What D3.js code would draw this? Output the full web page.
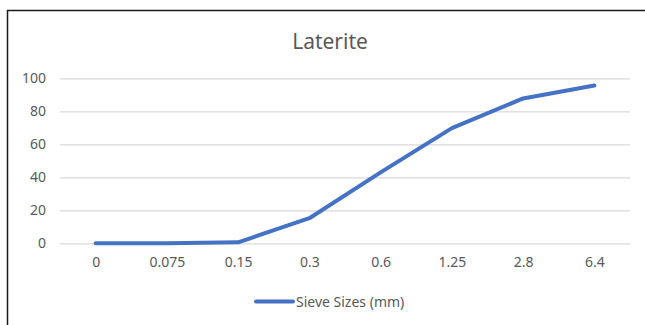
<!DOCTYPE html>
<html>
<head>
<meta charset="utf-8">
<script src="https://cdn.jsdelivr.net/npm/d3@7"></script>
<style>
  body { margin: 0; background: #fff; }
  svg { display: block; }
</style>
</head>
<body>
<svg id="chart"></svg>
<script>
// chart data
const sieveSizes = ["0", "0.075", "0.15", "0.3", "0.6", "1.25", "2.8", "6.4"];
const passing = [0, 0, 0.6, 15.2, 43, 69.8, 87.8, 95.6];
const yTicks = [0, 20, 40, 60, 80, 100];
const seriesName = "Sieve Sizes (mm)";
const chartTitle = "Laterite";

const W = 645, H = 325;
const font = "'Noto Sans', 'Open Sans', sans-serif";
const textColor = "#595959";

const svg = d3.select("#chart")
  .attr("width", W)
  .attr("height", H);

// frame (only left & top visible in the crop)
svg.append("path")
  .attr("d", `M7.5,${H + 5} V10.5 H${W + 5}`)
  .attr("fill", "none")
  .attr("stroke", "#1a1a1a")
  .attr("stroke-width", 1.5);

// title
svg.append("text")
  .attr("x", 330)
  .attr("y", 49)
  .attr("text-anchor", "middle")
  .style("font-family", font)
  .style("font-size", "21px")
  .attr("fill", textColor)
  .text(chartTitle);

// scales
const x = d3.scalePoint()
  .domain(sieveSizes)
  .range([60, 630])
  .padding(0.5);

const y = d3.scaleLinear()
  .domain([0, 100])
  .range([243.3, 78.3]);

// gridlines + y labels
const yAxis = svg.append("g")
  .attr("transform", "translate(60,0)")
  .call(d3.axisLeft(y).tickValues(yTicks).tickSize(-570).tickPadding(14));
yAxis.select(".domain").remove();
yAxis.selectAll(".tick line")
  .attr("stroke", "#d9d9d9")
  .attr("stroke-width", 1.3);
yAxis.selectAll(".tick text")
  .attr("fill", textColor)
  .style("font-family", font)
  .style("font-size", "14px");

// x labels
const xAxis = svg.append("g")
  .attr("transform", "translate(0,243.3)")
  .call(d3.axisBottom(x).tickSize(0).tickPadding(14));
xAxis.select(".domain").remove();
xAxis.selectAll(".tick text")
  .attr("fill", textColor)
  .style("font-family", font)
  .style("font-size", "14px");

// line
const line = d3.line()
  .x((d, i) => x(sieveSizes[i]))
  .y(d => y(d));

svg.append("path")
  .datum(passing)
  .attr("d", line)
  .attr("fill", "none")
  .attr("stroke", "#4472C4")
  .attr("stroke-width", 4)
  .attr("stroke-linejoin", "round")
  .attr("stroke-linecap", "round");

// legend
const legend = svg.append("g").attr("transform", "translate(256,301.5)");
legend.append("line")
  .attr("x1", 0).attr("x2", 37)
  .attr("stroke", "#4472C4")
  .attr("stroke-width", 4)
  .attr("stroke-linecap", "round");
legend.append("text")
  .attr("x", 40)
  .attr("y", 5)
  .style("font-family", font)
  .style("font-size", "14px")
  .attr("fill", textColor)
  .text(seriesName);
</script>
</body>
</html>
